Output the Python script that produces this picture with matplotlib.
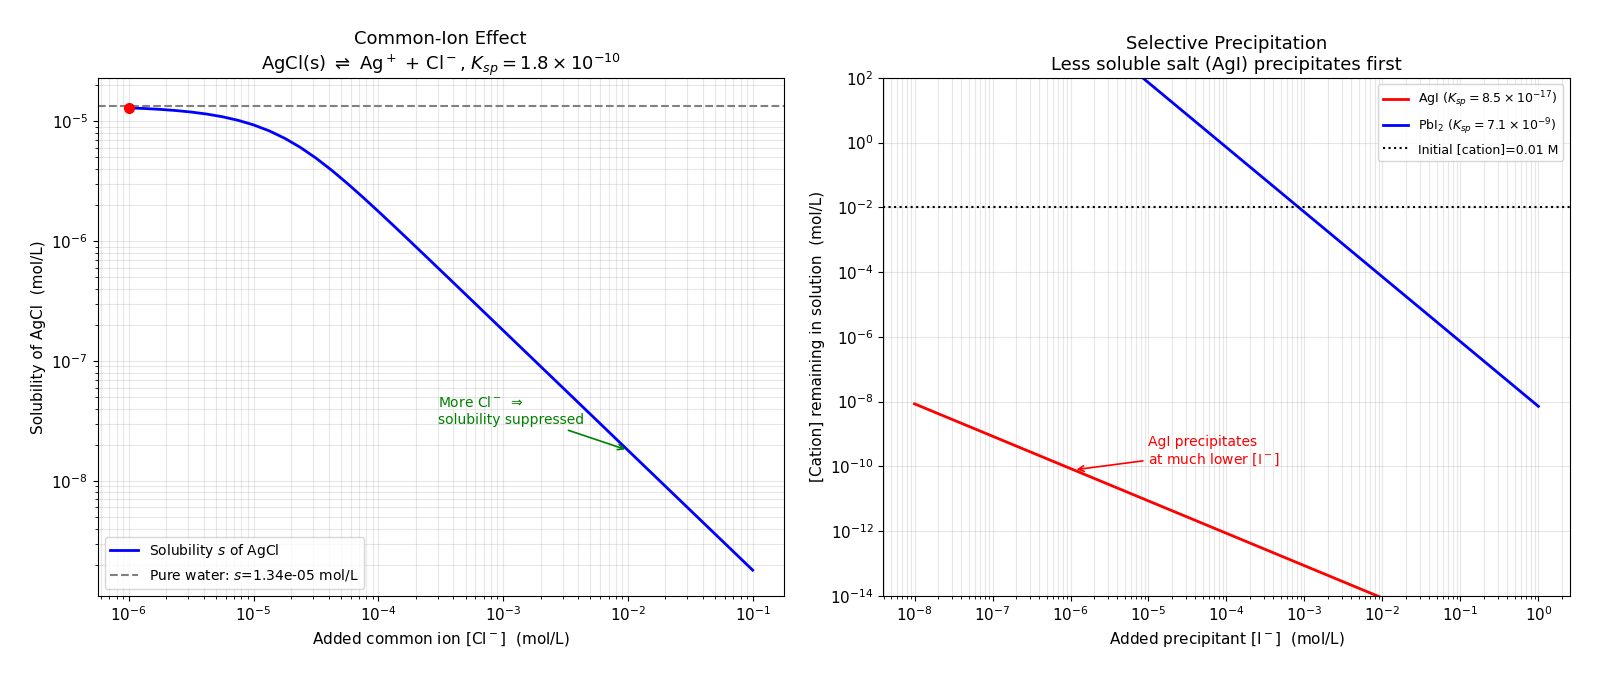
import numpy as np
import matplotlib
matplotlib.use("Agg")
import matplotlib.pyplot as plt

# Left panel: AgCl solubility vs added [Cl-]
cl_added = [1.0e-6, 1.334e-6, 1.778e-6, 2.371e-6, 3.162e-6, 4.217e-6, 5.623e-6,
            7.499e-6, 1.0e-5, 1.334e-5, 1.778e-5, 2.371e-5, 3.162e-5, 4.217e-5,
            5.623e-5, 7.499e-5, 1.0e-4, 1.334e-4, 1.778e-4, 2.371e-4, 3.162e-4,
            5.623e-4, 1.0e-3, 1.778e-3, 3.162e-3, 5.623e-3, 1.0e-2, 3.162e-2, 1.0e-1]
s_agcl = [1.2926e-5, 1.2766e-5, 1.2557e-5, 1.2283e-5, 1.1928e-5, 1.1473e-5, 1.0896e-5,
          1.0181e-5, 9.318e-6, 8.314e-6, 7.204e-6, 6.048e-6, 4.925e-6, 3.907e-6,
          3.037e-6, 2.328e-6, 1.769e-6, 1.3364e-6, 1.0065e-6, 7.566e-7, 5.682e-7,
          3.199e-7, 1.7997e-7, 1.0122e-7, 5.692e-8, 3.201e-8, 1.8e-8, 5.692e-9, 1.8e-9]
s_pure = 1.34e-5

# Right panel: remaining cation vs added [I-]
i_added = [1e-8, 1e-7, 1e-6, 1e-5, 1e-4, 1e-3, 1e-2, 1e-1, 1e0]
ag_left = [8.5e-9, 8.5e-10, 8.5e-11, 8.5e-12, 8.5e-13, 8.5e-14, 8.5e-15, 8.5e-16, 8.5e-17]
pb_left = [7.1e7, 7.1e5, 7.1e3, 7.1e1, 7.1e-1, 7.1e-3, 7.1e-5, 7.1e-7, 7.1e-9]
c_init = 0.01


def panel_left(ax):
    ax.loglog(cl_added, s_agcl, color="blue", lw=2, label=r"Solubility $s$ of AgCl")
    ax.axhline(s_pure, color="gray", ls="--", lw=1.5,
               label=rf"Pure water: $s$={s_pure:.2e} mol/L")
    ax.plot(cl_added[0], s_agcl[0], "o", color="red", ms=7, zorder=5)
    ax.annotate("More Cl$^-$ $\\Rightarrow$\nsolubility suppressed",
                xy=(1e-2, 1.8e-8), xytext=(3e-4, 3e-8), color="green", fontsize=10,
                arrowprops=dict(arrowstyle="->", color="green", lw=1.2))
    ax.grid(True, which="both", alpha=0.3)
    ax.set_ylim(1.1e-9, 2.3e-5)
    ax.set_xlabel(r"Added common ion [Cl$^-$]  (mol/L)", fontsize=11)
    ax.set_ylabel("Solubility of AgCl  (mol/L)", fontsize=11)
    ax.set_title("Common-Ion Effect\n"
                 r"AgCl(s) $\rightleftharpoons$ Ag$^+$ + Cl$^-$, $K_{sp} = 1.8\times10^{-10}$",
                 fontsize=13)
    ax.legend(loc="lower left", fontsize=10)
    ax.tick_params(labelsize=11)


def panel_right(ax):
    ax.loglog(i_added, ag_left, color="red", lw=2,
              label=r"AgI ($K_{sp}=8.5\times10^{-17}$)")
    ax.loglog(i_added, pb_left, color="blue", lw=2,
              label=r"PbI$_2$ ($K_{sp}=7.1\times10^{-9}$)")
    ax.axhline(c_init, color="black", ls=":", lw=1.5,
               label="Initial [cation]=0.01 M")
    ax.annotate("AgI precipitates\nat much lower [I$^-$]",
                xy=(1.1e-6, 8.5e-11 / 1.1), xytext=(1e-5, 1.2e-10), color="red",
                fontsize=10,
                arrowprops=dict(arrowstyle="->", color="red", lw=1.2))
    ax.grid(True, which="both", alpha=0.3)
    ax.set_ylim(1e-14, 1e2)
    ax.set_xlabel(r"Added precipitant [I$^-$]  (mol/L)", fontsize=11)
    ax.set_ylabel("[Cation] remaining in solution  (mol/L)", fontsize=11)
    ax.set_title("Selective Precipitation\nLess soluble salt (AgI) precipitates first",
                 fontsize=13)
    ax.legend(loc="upper right", fontsize=9)
    ax.tick_params(labelsize=11)


def main():
    fig, (ax1, ax2) = plt.subplots(1, 2, figsize=(16, 6.77), dpi=100)
    panel_left(ax1)
    panel_right(ax2)
    fig.subplots_adjust(left=0.061, right=0.981, top=0.885, bottom=0.12, wspace=0.145)
    fig.savefig("out.png")


if __name__ == "__main__":
    main()
